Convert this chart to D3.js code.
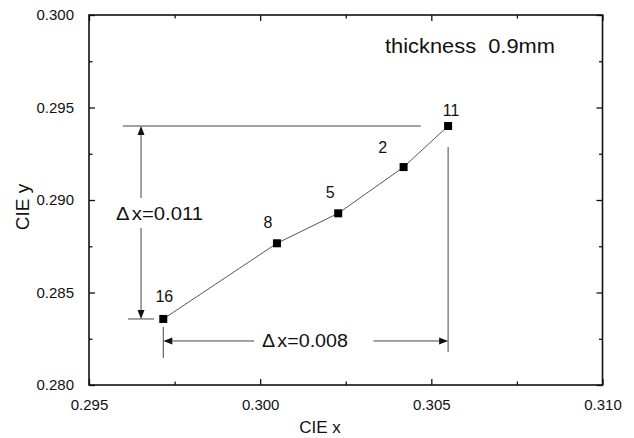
<!DOCTYPE html>
<html><head><meta charset="utf-8">
<script src="https://cdn.jsdelivr.net/npm/d3@7"></script>
<style>body{margin:0;background:#fff}svg{display:block}text{font-family:"Liberation Sans",Arial,sans-serif;fill:#111}</style>
</head><body><svg id="c" width="634" height="438"></svg>
<script>
// data
const labels = ["16", "8", "5", "2", "11"];
const cieX = [0.29717, 0.30049, 0.30228, 0.30419, 0.30549];
const cieY = [0.28357, 0.28766, 0.28928, 0.29178, 0.29400];
const xTicks = [0.295, 0.300, 0.305, 0.310];
const yTicks = [0.280, 0.285, 0.290, 0.295, 0.300];
const xMinor = [0.2975, 0.3025, 0.3075];
const yMinor = [0.2825, 0.2875, 0.2925, 0.2975];
// annotation guide lines in data units
const guideLines = [
  {x1: 0.29599, y1: 0.29400, x2: 0.30469, y2: 0.29400},
  {x1: 0.29614, y1: 0.28357, x2: 0.29690, y2: 0.28357},
  {x1: 0.29717, y1: 0.28314, x2: 0.29717, y2: 0.28146},
  {x1: 0.30549, y1: 0.29286, x2: 0.30549, y2: 0.28178}
];
// arrows: from (text side) to tip
const arrows = [
  {x1: 0.29652, y1: 0.29011, x2: 0.29652, y2: 0.29400},
  {x1: 0.29652, y1: 0.28849, x2: 0.29652, y2: 0.28357},
  {x1: 0.29982, y1: 0.28238, x2: 0.29717, y2: 0.28238},
  {x1: 0.30331, y1: 0.28238, x2: 0.30549, y2: 0.28238}
];

const svg = d3.select("#c");
const L = 89, R = 602.5, T = 15, B = 385;
const x = d3.scaleLinear().domain([0.295, 0.310]).range([L, R]);
const y = d3.scaleLinear().domain([0.280, 0.300]).range([B, T]);

const fmt = d3.format(".3f");
function axis(gen, tr, vals, size, f, pad) {
  return svg.append("g").attr("transform", tr)
    .call(gen.tickValues(vals).tickFormat(f).tickSizeInner(size).tickSizeOuter(0).tickPadding(pad || 3));
}
axis(d3.axisBottom(x), `translate(0,${B})`, xTicks, -6, fmt, 14);
axis(d3.axisBottom(x), `translate(0,${B})`, xMinor, -3.5, "");
axis(d3.axisTop(x), `translate(0,${T})`, xTicks, -6, "");
axis(d3.axisTop(x), `translate(0,${T})`, xMinor, -3.5, "");
axis(d3.axisLeft(y), `translate(${L},0)`, yTicks, -6, fmt, 15);
axis(d3.axisLeft(y), `translate(${L},0)`, yMinor, -3.5, "");
axis(d3.axisRight(y), `translate(${R},0)`, yTicks, -6, "");
axis(d3.axisRight(y), `translate(${R},0)`, yMinor, -3.5, "");
svg.selectAll(".domain").remove();
svg.selectAll(".tick line").attr("stroke", "#111").attr("stroke-width", 1.3);
svg.selectAll(".tick text").attr("font-size", 15).attr("fill", "#111")
  .style("font-family", "'Liberation Sans', Arial, sans-serif");

svg.append("rect").attr("x", L).attr("y", T).attr("width", R - L).attr("height", B - T)
  .attr("fill", "none").attr("stroke", "#111").attr("stroke-width", 1.6);

// axis titles
svg.append("text").attr("x", 320).attr("y", 433).attr("text-anchor", "middle").attr("font-size", 17).text("CIE x");
svg.append("text").attr("transform", "translate(28.5,207) rotate(-90)").attr("text-anchor", "middle").attr("font-size", 19).text("CIE y");

// guide lines
svg.append("g").selectAll("line").data(guideLines).join("line")
  .attr("x1", d => x(d.x1)).attr("y1", d => y(d.y1)).attr("x2", d => x(d.x2)).attr("y2", d => y(d.y2))
  .attr("stroke", "#444").attr("stroke-width", 1);

// arrows
const ag = svg.append("g");
arrows.forEach(a => {
  const x1 = x(a.x1), y1 = y(a.y1), x2 = x(a.x2), y2 = y(a.y2);
  const ang = Math.atan2(y2 - y1, x2 - x1);
  const len = 9, hw = 3.5;
  const bx = x2 - len * Math.cos(ang), by = y2 - len * Math.sin(ang);
  ag.append("line").attr("x1", x1).attr("y1", y1).attr("x2", bx).attr("y2", by)
    .attr("stroke", "#444").attr("stroke-width", 1);
  const px = -Math.sin(ang) * hw, py = Math.cos(ang) * hw;
  ag.append("path").attr("d", `M${x2},${y2}L${bx + px},${by + py}L${bx - px},${by - py}Z`).attr("fill", "#111");
});

// data line
const pts = cieX.map((v, i) => ({x: v, y: cieY[i], label: labels[i]}));
svg.append("path").datum(pts)
  .attr("d", d3.line().x(d => x(d.x)).y(d => y(d.y)))
  .attr("fill", "none").attr("stroke", "#444").attr("stroke-width", 0.9);
svg.append("g").selectAll("rect").data(pts).join("rect")
  .attr("x", d => x(d.x) - 4).attr("y", d => y(d.y) - 4).attr("width", 8).attr("height", 8).attr("fill", "#000");
const labelOff = {"16": [1, -17], "8": [-9, -15], "5": [-8, -15], "2": [-21, -14], "11": [3, -10]};
svg.append("g").selectAll("text").data(pts).join("text")
  .attr("x", d => x(d.x) + labelOff[d.label][0])
  .attr("y", d => y(d.y) + labelOff[d.label][1])
  .attr("text-anchor", "middle").attr("font-size", 16).text(d => d.label);

// annotation texts
svg.append("text").attr("x", 116).attr("y", 220).attr("font-size", 18)
  .attr("textLength", 87).attr("lengthAdjust", "spacingAndGlyphs")
  .html('Δ<tspan dx="2">x=0.011</tspan>');
svg.append("text").attr("x", 262).attr("y", 347).attr("font-size", 18)
  .attr("textLength", 86).attr("lengthAdjust", "spacingAndGlyphs")
  .html('Δ<tspan dx="2">x=0.008</tspan>');
svg.append("text").attr("x", 385).attr("y", 53).attr("font-size", 20.5)
  .attr("textLength", 170).attr("lengthAdjust", "spacingAndGlyphs")
  .style("white-space", "pre").text("thickness  0.9mm");
</script></body></html>
